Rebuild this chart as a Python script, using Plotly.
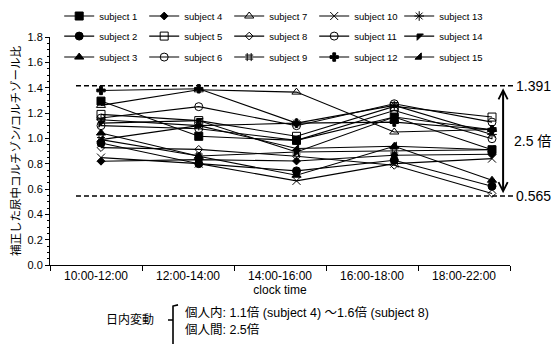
import plotly.graph_objects as go

clock_labels = ["10:00-12:00", "12:00-14:00", "14:00-16:00", "16:00-18:00", "18:00-22:00"]
slots = [0, 1, 2, 3, 4]

s1 = [1.294, 1.016, 0.984, 1.168, 0.910]
s2 = [0.963, 0.800, 0.743, 0.827, 0.622]
s3 = [1.042, 0.858, 0.709, 0.937, 0.669]
s4 = [0.819, 0.832, 0.821, 0.866, 0.874]
s5 = [1.189, 1.140, 1.016, 1.252, 1.168]
s6 = [1.160, 1.250, 1.100, 1.273, 1.128]
s7 = [1.260, 1.383, 1.365, 1.050, 1.070]
s8 = [0.927, 0.913, 0.858, 0.787, 0.565]
s9 = [0.990, 0.860, 0.892, 0.900, 0.910]
s10 = [0.848, 0.800, 0.664, 0.800, 0.840]
s11 = [1.100, 1.076, 0.984, 1.220, 0.997]
s12 = [1.378, 1.391, 1.120, 1.128, 1.068]
s13 = [1.147, 1.100, 1.120, 1.260, 1.031]
s14 = [1.120, 1.140, 0.892, 1.168, 1.068]
s15 = [0.990, 1.100, 0.920, 0.937, 0.910]

subjects = [s1, s2, s3, s4, s5, s6, s7, s8, s9, s10, s11, s12, s13, s14, s15]
names = [f"subject {i}" for i in range(1, 16)]
symbols = ["square", "circle", "triangle-up", "diamond", "square-open", "circle-open",
           "triangle-up-open", "diamond-open", "hash-open", "x-thin-open", "circle-open",
           "cross", "asterisk-open", "triangle-nw", "triangle-se"]
sizes = [8, 8, 8, 6, 8, 8, 8, 6, 8, 8, 8, 7, 8, 7, 7]

upper_line, lower_line = 1.415, 0.545
upper_txt, lower_txt, ratio_txt = "1.391", "0.565", "2.5 倍"

legend_ids = ["legend", "legend2", "legend3"]

fig = go.Figure()
for i, (vals, nm) in enumerate(zip(subjects, names)):
    col = i // 3
    row = i % 3
    fig.add_trace(go.Scatter(
        x=slots, y=vals, name=nm, mode="lines+markers",
        line=dict(color="black", width=1.1),
        marker=dict(symbol=symbols[i], size=sizes[i], color="black",
                    line=dict(color="black", width=1)),
        legend=legend_ids[row], legendrank=col + 1,
    ))

font_main = "Liberation Sans, Arial, Noto Sans CJK JP, sans-serif"

def leg(yc):
    return dict(orientation="h", x=0.02, xanchor="left", y=yc, yanchor="middle",
                font=dict(size=9.5), entrywidth=40, itemwidth=30,
                bgcolor="rgba(0,0,0,0)")

fig.update_layout(
    width=553, height=344,
    margin=dict(l=50, r=43, t=37, b=79, autoexpand=False),
    paper_bgcolor="white", plot_bgcolor="white",
    font=dict(family=font_main, color="black", size=11),
    showlegend=True,
    legend=leg(1.092), legend2=leg(1.004), legend3=leg(0.912),
    xaxis=dict(range=[-0.5217, 4.184], visible=False, showgrid=False, zeroline=False),
    xaxis2=dict(range=[-0.5, 4.5], overlaying="x", anchor="y", side="bottom",
                tickvals=slots, ticktext=clock_labels, ticks="",
                tickfont=dict(size=12), showline=True, linecolor="black", linewidth=1,
                showgrid=False, zeroline=False,
                minor=dict(tick0=0.5, dtick=1, ticks="outside", ticklen=5,
                           tickcolor="black", showgrid=False),
                title=dict(text="clock time", font=dict(size=12), standoff=0)),
    yaxis=dict(range=[0, 1.8], dtick=0.2, tickformat=".1f", ticks="outside",
               ticklen=4, tickcolor="black", showline=True, linecolor="black",
               linewidth=1, showgrid=False, zeroline=False, tickfont=dict(size=11),
               minor=dict(dtick=0.05, ticks="outside", ticklen=2, tickcolor="black",
                          showgrid=False),
               title=dict(text="補正した尿中コルチゾン/コルチゾール比",
                          font=dict(size=11.5), standoff=4)),
)

# invisible anchor trace for the label axis
fig.add_trace(go.Scatter(x=slots, y=[None] * 5, xaxis="x2", showlegend=False,
                         hoverinfo="skip", mode="markers"))

for val in (upper_line, lower_line):
    fig.add_shape(type="line", xref="paper", yref="y", x0=0.0565, x1=1.0065,
                  y0=val, y1=val, line=dict(color="black", width=1.6, dash="5px,3px"))

fig.add_annotation(xref="paper", yref="y", x=1.009, y=upper_line, text=upper_txt,
                   showarrow=False, xanchor="left", font=dict(size=14))
fig.add_annotation(xref="paper", yref="y", x=1.009, y=lower_line, text=lower_txt,
                   showarrow=False, xanchor="left", font=dict(size=14))
fig.add_annotation(xref="paper", yref="y", x=1.005, y=(upper_line + lower_line) / 2,
                   text=ratio_txt, showarrow=False, xanchor="left", font=dict(size=14))
fig.add_annotation(xref="x domain", yref="y", x=0.985, y=upper_line - 0.02,
                   ax=0.985, ay=lower_line + 0.01, axref="x domain", ayref="y",
                   text="", showarrow=True, arrowhead=5, startarrowhead=5,
                   arrowside="end+start", arrowwidth=2, arrowsize=0.9,
                   startarrowsize=0.9, arrowcolor="black")

fig.add_annotation(xref="paper", yref="paper", x=0.173, y=-0.241, text="日内変動",
                   showarrow=False, xanchor="center", yanchor="middle",
                   font=dict(size=12))
fig.add_annotation(xref="paper", yref="paper", x=0.289, y=-0.2105,
                   text="個人内: 1.1倍 (subject 4) ～1.6倍 (subject 8)",
                   showarrow=False, xanchor="left", yanchor="middle", font=dict(size=12.5))
fig.add_annotation(xref="paper", yref="paper", x=0.289, y=-0.285,
                   text="個人間: 2.5倍", showarrow=False, xanchor="left",
                   yanchor="middle", font=dict(size=12.5))
fig.add_shape(type="path", xref="paper", yref="paper",
              path="M 0.2783,-0.175 L 0.2674,-0.18 L 0.2674,-0.36 M 0.2674,-0.241 L 0.2565,-0.241",
              line=dict(color="black", width=1.6))

fig.write_html("out.html", config={"displayModeBar": False},
               post_script="document.body.style.margin='0';document.body.style.overflow='hidden';")
